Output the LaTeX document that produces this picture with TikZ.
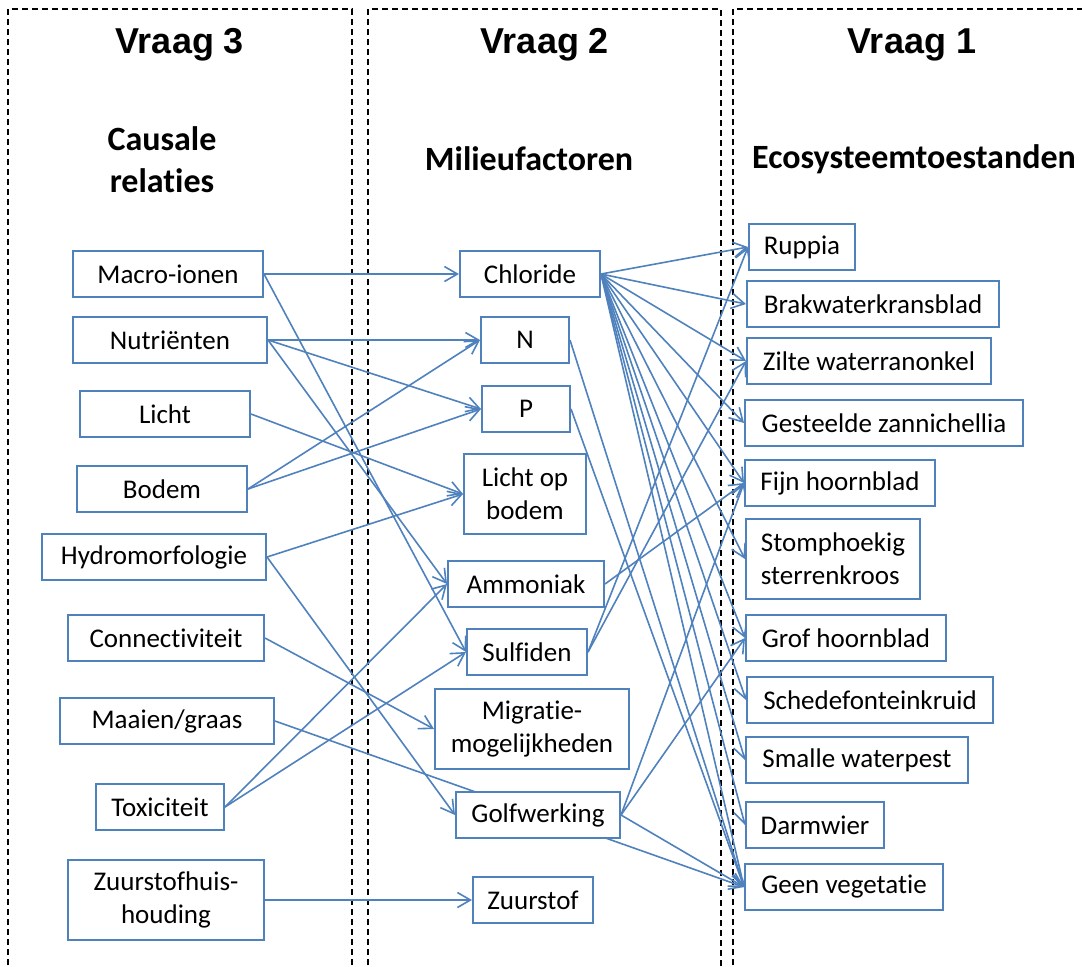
\documentclass[tikz,border=0pt]{standalone}
\usepackage{fontspec}
\setmainfont{Carlito}[Ligatures=NoCommon]
\newfontfamily\vraagfont{Liberation Sans}
\usetikzlibrary{arrows.meta,backgrounds}
\definecolor{boxblue}{RGB}{79,129,189}

\begin{document}
\begin{tikzpicture}[
    x=0.5pt, y=-0.5pt,
    >={Straight Barb[length=6.5pt,width=7.5pt]},
    box/.style={rectangle, draw=boxblue, line width=1pt, fill=white, minimum height=23pt, inner sep=2pt, font=\fontsize{13.5}{16.5}\selectfont},
    tallbox/.style={box, minimum height=40pt, align=center},
    link/.style={->, draw=boxblue, line width=0.8pt},
    column/.style={draw=black, line width=0.75pt, dash pattern=on 3pt off 2pt},
    vraag/.style={inner sep=0pt, font=\vraagfont\bfseries\fontsize{18}{22}\selectfont},
    kop/.style={inner sep=0pt, align=center, font=\bfseries\fontsize{17}{21}\selectfont}
]
    \useasboundingbox (0,0) rectangle (1082,966);

    % Headings
    \node[vraag] (v3) at (180,45) {Vraag 3};
    \node[vraag] (v2) at (545,45) {Vraag 2};
    \node[vraag] (v1) at (912,45) {Vraag 1};
    \node[kop] (causaal) at (162,160) {Causale\\relaties};
    \node[kop] (milieu) at (529,159) {Milieufactoren};
    \node[kop] (eco) at (914,159) {Ecosysteemtoestanden};

    % Causale relaties
    \node[box, minimum width=95pt] (macro) at (168,274) {Macro-ionen\hspace{6pt}};
    \node[box, minimum width=97pt] (nutri) at (170,340) {Nutriënten};
    \node[box, minimum width=85pt] (licht) at (165,414) {Licht};
    \node[box, minimum width=85pt] (bodem) at (162,489) {Bodem};
    \node[box, minimum width=112pt] (hydro) at (154,557) {Hydromorfologie};
    \node[box, minimum width=98pt] (conn) at (166,638) {Connectiviteit};
    \node[box, minimum width=107pt] (maaien) at (167,721) {Maaien/graas\hspace{4pt}};
    \node[box, minimum width=64pt] (toxi) at (160,807) {Toxiciteit};
    \node[tallbox, minimum width=98pt] (zuurhh) at (166,900) {Zuurstofhuis-\\houding};

    % Milieufactoren
    \node[box, minimum width=70pt] (chloride) at (530,274) {Chloride\hspace{4pt}};
    \node[box, minimum width=44pt] (n) at (525,340) {N};
    \node[box, minimum width=44pt] (p) at (526,409) {P};
    \node[tallbox, minimum width=61pt] (lichtbodem) at (525,494) {Licht op\\bodem};
    \node[box, minimum width=78pt] (ammoniak) at (526,584) {Ammoniak};
    \node[box, minimum width=60pt] (sulfiden) at (527,652) {Sulfiden};
    \node[tallbox, minimum width=97pt] (migratie) at (532,729) {Migratie-\\mogelijkheden};
    \node[box, minimum width=82pt] (golf) at (538,815) {Golfwerking};
    \node[box, minimum width=60pt] (zuurstof) at (533,900) {Zuurstof};

    % Ecosysteemtoestanden
    \node[box, minimum width=53pt] (ruppia) at (802,247) {Ruppia};
    \node[box, minimum width=126pt] (brak) at (873,304) {Brakwaterkransblad};
    \node[box, minimum width=122pt] (zilte) at (869,361) {Zilte waterranonkel};
    \node[box, minimum width=139pt] (gesteeld) at (884,423) {Gesteelde zannichellia};
    \node[box, minimum width=95pt] (fijn) at (840,483) {Fijn hoornblad};
    \node[tallbox, minimum width=87pt, align=left] (stomp) at (833,559) {Stomphoekig\\sterrenkroos};
    \node[box, minimum width=100pt] (grof) at (846,638) {Grof hoornblad};
    \node[box, minimum width=123pt] (schede) at (870,700) {Schedefonteinkruid};
    \node[box, minimum width=111pt] (smalle) at (857,760) {Smalle waterpest};
    \node[box, minimum width=69pt] (darm) at (815,825) {Darmwier};
    \node[box, minimum width=99pt] (geen) at (844,887) {Geen vegetatie};

    \begin{scope}[on background layer]
    % Columns
    \draw[column] (8,975) |- (352,9) -- (352,975);
    \draw[column] (368,975) |- (721,9) -- (721,975);
    \draw[column] (733,975) |- (1090,9);

    % Relationships
    \draw[link] (macro.east) -- (chloride.west);
    \draw[link] (macro.east) -- (sulfiden.west);
    \draw[link] (nutri.east) -- (n.west);
    \draw[link] (nutri.east) -- (p.west);
    \draw[link] (nutri.east) -- (ammoniak.west);
    \draw[link] (licht.east) -- (lichtbodem.west);
    \draw[link] (bodem.east) -- (n.west);
    \draw[link] (bodem.east) -- (p.west);
    \draw[link] (hydro.east) -- (lichtbodem.west);
    \draw[link] (hydro.east) -- (golf.west);
    \draw[link] (conn.east) -- (migratie.west);
    \draw[link] (maaien.east) -- (geen.west);
    \draw[link] (toxi.east) -- (ammoniak.west);
    \draw[link] (toxi.east) -- (sulfiden.west);
    \draw[link] (zuurhh.east) -- (zuurstof.west);

    \draw[link] (chloride.east) -- (ruppia.west);
    \draw[link] (chloride.east) -- (brak.west);
    \draw[link] (chloride.east) -- (zilte.west);
    \draw[link] (chloride.east) -- (gesteeld.west);
    \draw[link] (chloride.east) -- (fijn.west);
    \draw[link] (chloride.east) -- (stomp.west);
    \draw[link] (chloride.east) -- (grof.west);
    \draw[link] (chloride.east) -- (schede.west);
    \draw[link] (chloride.east) -- (smalle.west);
    \draw[link] (chloride.east) -- (darm.west);
    \draw[link] (chloride.east) -- (geen.west);
    \draw[link] (n.east) -- (geen.west);
    \draw[link] (p.east) -- (geen.west);
    \draw[link] (ammoniak.east) -- (fijn.west);
    \draw[link] (sulfiden.east) -- (ruppia.west);
    \draw[link] (sulfiden.east) -- (zilte.west);
    \draw[link] (golf.east) -- (fijn.west);
    \draw[link] (golf.east) -- (grof.west);
    \draw[link] (golf.east) -- (geen.west);
    \end{scope}

\end{tikzpicture}
\end{document}
